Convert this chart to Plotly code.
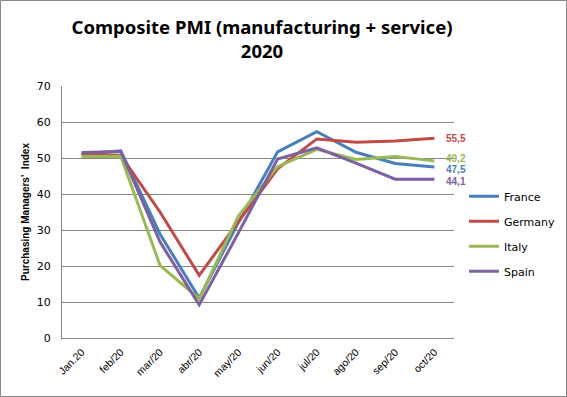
import plotly.graph_objects as go

months = ["Jan.20", "feb/20", "mar/20", "abr/20", "may/20", "jun/20", "jul/20", "ago/20", "sep/20", "oct/20"]
france = [51.1, 52.0, 28.9, 11.1, 32.1, 51.7, 57.3, 51.6, 48.5, 47.5]
germany = [51.2, 50.7, 35.0, 17.4, 32.3, 47.0, 55.3, 54.4, 54.7, 55.5]
italy = [50.4, 50.5, 20.2, 10.9, 33.9, 47.6, 52.4, 49.6, 50.4, 49.2]
spain = [51.5, 51.8, 26.7, 9.2, 29.2, 49.7, 52.8, 48.6, 44.1, 44.1]
y_ticks = [0, 10, 20, 30, 40, 50, 60, 70]

series = [
    ("France", france, "#4A7EBB"),
    ("Germany", germany, "#BE4B48"),
    ("Italy", italy, "#98B954"),
    ("Spain", spain, "#7D60A0"),
]

fig = go.Figure()
for name, vals, col in series:
    fig.add_trace(go.Scatter(x=months, y=vals, name=name, mode="lines", legendgroup=name,
                             line=dict(color=col, width=3)))

# end labels (small vertical nudges so close labels stay readable, as in the reference)
label_shift = {"Germany": 0, "Italy": 2, "France": -2, "Spain": -2}
for name, vals, col in series:
    fig.add_annotation(x=months[-1], y=vals[-1],
                       text="<b>" + f"{vals[-1]:.1f}".replace(".", ",") + "</b>",
                       showarrow=False, xanchor="left", xshift=10, yshift=label_shift[name],
                       font=dict(family="Liberation Sans", size=10, color=col))

W, H = 567, 397
L, R, T, B = 62, 113, 86, 59
pw, ph = W - L - R, H - T - B
fig.add_shape(type="rect", xref="paper", yref="paper",
              x0=(0.5 - L) / pw, x1=(W - 0.5 - L) / pw,
              y0=(H - B - (H - 0.5)) / ph, y1=(H - B - 0.5) / ph,
              line=dict(color="#868686", width=1), fillcolor="rgba(0,0,0,0)")

fig.update_layout(
    width=W, height=H,
    margin=dict(l=L, r=R, t=T, b=B, autoexpand=False),
    paper_bgcolor="white", plot_bgcolor="white",
    title=dict(text="<b>Composite PMI (manufacturing + service)<br>2020</b>",
               x=262 / W, xanchor="center", y=1 - 34 / H, yanchor="middle",
               font=dict(family="Noto Sans", size=18.5, color="black")),
    legend=dict(x=1 + 10 / pw, y=0.62, xanchor="left", yanchor="top",
                font=dict(family="DejaVu Sans", size=11, color="black"),
                tracegroupgap=6, itemwidth=30),
    xaxis=dict(type="category", range=[-0.5, 9.5], tickangle=-45,
               showline=True, linecolor="#868686", linewidth=1,
               showgrid=False, ticks="", ticklabelstandoff=3,
               tickfont=dict(family="Liberation Sans", size=10.5, color="black")),
    yaxis=dict(range=[0, 70], tickvals=y_ticks, showgrid=True, gridcolor="#868686", gridwidth=1,
               showline=True, linecolor="#868686", linewidth=1, ticks="", zeroline=False,
               ticklabelstandoff=8,
               tickfont=dict(family="DejaVu Sans", size=11, color="black"),
               title=dict(text="<b>Purchasing Managers'  Index</b>", standoff=5,
                          font=dict(family="Liberation Sans", size=10, color="black"))),
)

fig.write_html("out.html", config={"displayModeBar": False},
               post_script="document.body.style.margin='0';")
